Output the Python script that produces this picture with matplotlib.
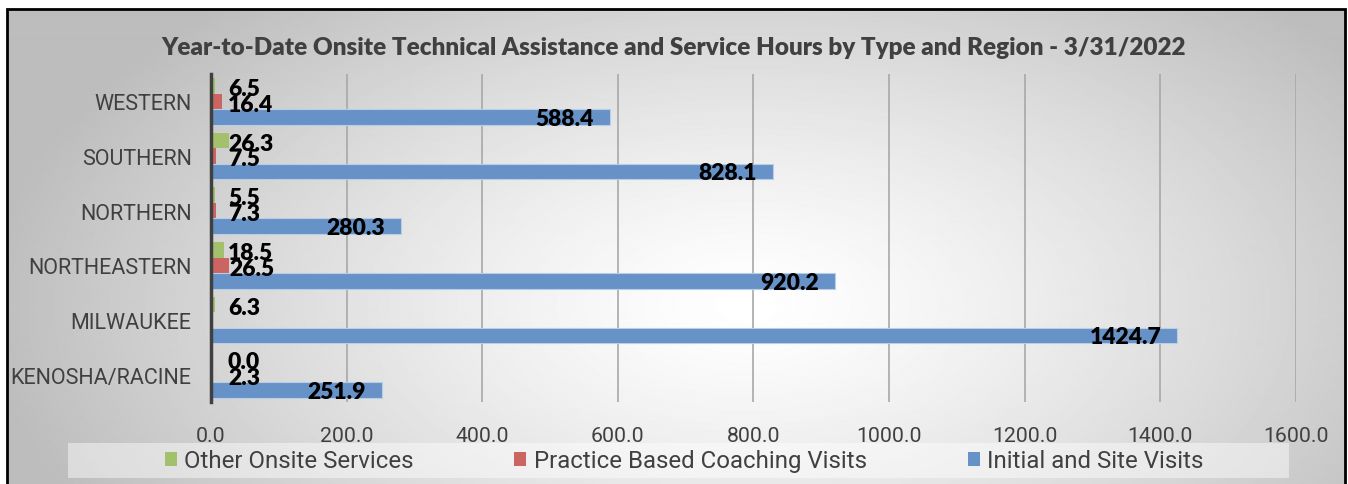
import numpy as np
import matplotlib
matplotlib.use("Agg")
import matplotlib.pyplot as plt
from matplotlib.patches import Rectangle, Patch

# data (bottom to top on the chart); nan = no value shown
regions = ["KENOSHA/RACINE", "MILWAUKEE", "NORTHEASTERN", "NORTHERN", "SOUTHERN", "WESTERN"]
other_onsite = [0.0, 6.3, 18.5, 5.5, 26.3, 6.5]
coaching = [2.3, np.nan, 26.5, 7.3, 7.5, 16.4]
initial_site = [251.9, 1424.7, 920.2, 280.3, 828.1, 588.4]
x_ticks = [0, 200, 400, 600, 800, 1000, 1200, 1400, 1600]

title = "Year-to-Date Onsite Technical Assistance and Service Hours by Type and Region - 3/31/2022"
GREEN, RED, BLUE = "#a3c16c", "#cc6462", "#6792c8"
GREY_TXT = "#404040"

W, H = 1348, 485
fig = plt.figure(figsize=(W / 100, H / 100), dpi=100)

# radial grey background inside the black frame
fx0, fx1, fy_top = 7 / W, 1345 / W, 1 - 10 / H
bg = fig.add_axes([fx0, 0, fx1 - fx0, fy_top], zorder=0)
yy, xx = np.mgrid[0:480, 0:1338]
d = np.sqrt(((xx - 740) / 760.0) ** 2 + ((yy - 300) / 420.0) ** 2)
shade = 1.0 - 0.26 * np.clip(d, 0, 1) ** 1.3
bg.imshow(shade, cmap="gray", vmin=0, vmax=1, aspect="auto", interpolation="bilinear")
bg.axis("off")
fig.patches.append(Rectangle((fx0, -0.02), fx1 - fx0, fy_top + 0.02, transform=fig.transFigure,
                             fill=False, edgecolor="black", linewidth=2, zorder=5))

# legend band
fig.patches.append(Rectangle((68 / W, 1 - 479 / H), (1289 - 68) / W, 35 / H, transform=fig.transFigure,
                             facecolor="white", alpha=0.45, edgecolor="none", zorder=1))

ax = fig.add_axes([211 / W, 1 - 403 / H, (1296 - 211) / W, (403 - 75) / H], zorder=2)
ax.set_facecolor("none")

y = np.arange(len(regions))
h = 0.283
ax.barh(y + h, other_onsite, height=h, color=GREEN, zorder=3)
ax.barh(y, coaching, height=h, color=RED, zorder=3)
ax.barh(y - h, initial_site, height=h, color=BLUE, edgecolor="#b8cde6", linewidth=0.8, zorder=3)

lab_font = dict(family="Lato", fontweight="heavy", fontsize=16.5, color="black")
for i in range(len(regions)):
    for v, off in ((other_onsite[i], h), (coaching[i], 0)):
        if np.isnan(v):
            continue
        ax.annotate(f"{v:.1f}", (max(v, 25), i + off), xytext=(0, -2), textcoords="offset points",
                    ha="left", va="center", zorder=4, **lab_font)
    ax.annotate(f"{initial_site[i]:.1f}", (initial_site[i], i - h), xytext=(-11.5, -1),
                textcoords="offset points", ha="right", va="center", zorder=4, **lab_font)

ax.set_xlim(0, 1600)
ax.set_ylim(-0.5, 5.5)
ax.set_xticks(x_ticks)
ax.set_xticklabels([f"{t:.1f}" for t in x_ticks], family="Roboto", fontsize=15.3, color=GREY_TXT)
ax.set_yticks(y)
ax.set_yticklabels(regions, family="Roboto", fontsize=15.5, color=GREY_TXT)
ax.tick_params(axis="x", length=0, pad=17)
ax.tick_params(axis="y", length=0, pad=14)
ax.grid(axis="x", color="#a8a8a8", linewidth=1.2, zorder=1)
ax.set_axisbelow(True)
for s in ("top", "right", "bottom"):
    ax.spines[s].set_visible(False)
ax.spines["left"].set_color(GREY_TXT)
ax.spines["left"].set_linewidth(2.5)
ax.spines["left"].set_zorder(5)

fig.text(0.5, 1 - 48 / H, title, ha="center", va="center", family="Lato", fontweight="heavy",
         fontsize=17.5, color=GREY_TXT)

handles = [Patch(facecolor=GREEN), Patch(facecolor=RED), Patch(facecolor=BLUE)]
fig.legend(handles, ["Other Onsite Services", "Practice Based Coaching Visits", "Initial and Site Visits"],
           loc="center", bbox_to_anchor=(684 / W, 1 - 462 / H), ncol=3, frameon=False,
           prop={"family": "Roboto", "size": 17.3}, labelcolor=GREY_TXT,
           handlelength=0.5, handleheight=0.5, handletextpad=0.3, columnspacing=4.2)

fig.savefig("out.png", dpi=100)
